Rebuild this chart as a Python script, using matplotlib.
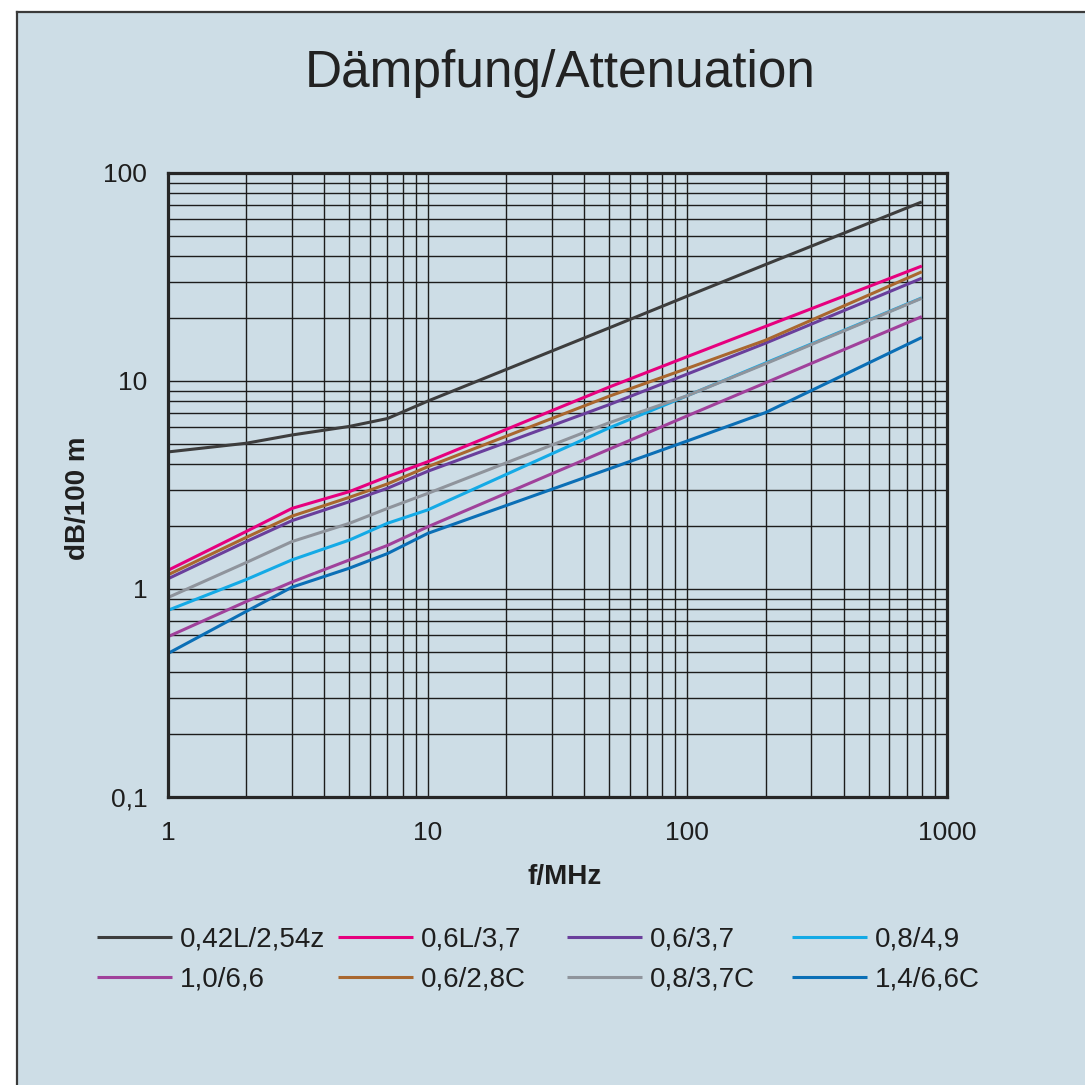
import matplotlib
matplotlib.use("Agg")
import matplotlib.pyplot as plt
from matplotlib.lines import Line2D
from matplotlib.patches import Rectangle
from matplotlib.ticker import FixedLocator, LogLocator, NullFormatter

plt.rcParams['font.family'] = ['Liberation Sans', 'DejaVu Sans']

# ---- data ----
freq = [1, 2, 3, 5, 7, 10, 50, 100, 200, 800]
series_names = ["0,42L/2,54z", "0,6L/3,7", "0,6/3,7", "0,8/4,9",
                "1,0/6,6", "0,6/2,8C", "0,8/3,7C", "1,4/6,6C"]
att_042L_254z = [4.56, 5.02, 5.5, 6.05, 6.6, 8.0, 18.0, 25.6, 36.3, 72.6]
att_06L_37 = [1.23, 1.89, 2.44, 2.94, 3.47, 4.09, 9.35, 13.1, 18.3, 35.7]
att_06_37 = [1.12, 1.69, 2.13, 2.63, 3.05, 3.68, 7.7, 10.8, 15.2, 31.2]
att_08_49 = [0.79, 1.11, 1.38, 1.72, 2.07, 2.40, 5.95, 8.5, 12.2, 25.1]
att_10_66 = [0.59, 0.87, 1.08, 1.38, 1.62, 1.99, 4.7, 6.8, 9.8, 20.4]
att_06_28C = [1.17, 1.77, 2.24, 2.76, 3.2, 3.87, 8.45, 11.5, 15.7, 33.5]
att_08_37C = [0.91, 1.34, 1.69, 2.07, 2.44, 2.88, 6.3, 8.5, 12.1, 25.0]
att_14_66C = [0.49, 0.78, 1.02, 1.26, 1.48, 1.85, 3.78, 5.15, 7.05, 16.2]
series_values = [att_042L_254z, att_06L_37, att_06_37, att_08_49,
                 att_10_66, att_06_28C, att_08_37C, att_14_66C]
series_colors = ["#3d3d3d", "#e6007e", "#6a3f9c", "#14aae6",
                 "#a0419b", "#a9672f", "#8f949c", "#0b6fb6"]
x_ticks = [1, 10, 100, 1000]
x_ticklabels = ["1", "10", "100", "1000"]
y_ticks = [0.1, 1, 10, 100]
y_ticklabels = ["0,1", "1", "10", "100"]

W = H = 1085
panel_color = "#cddde6"
fig = plt.figure(figsize=(W / 100, H / 100), dpi=100, facecolor="white")

# background panel
fig.patches.append(Rectangle((17 / W, 0), 1 - 17 / W, 1 - 12 / H, transform=fig.transFigure,
                             facecolor=panel_color, edgecolor="none", zorder=-10))
fig.lines.append(Line2D([17 / W, 17 / W], [0, 1 - 12 / H], transform=fig.transFigure,
                        color="#3a3a3a", lw=1.6, zorder=-9))
fig.lines.append(Line2D([17 / W, 1], [1 - 12 / H, 1 - 12 / H], transform=fig.transFigure,
                        color="#3a3a3a", lw=1.6, zorder=-9))

ax = fig.add_axes([168 / W, 1 - 797 / H, 779 / W, 624 / H])
ax.set_zorder(5)
ax.set_facecolor(panel_color)
ax.set_xscale("log")
ax.set_yscale("log")
ax.set_xlim(1, 1000)
ax.set_ylim(0.1, 100)

lines = []
for name, vals, col in zip(series_names, series_values, series_colors):
    ln, = ax.plot(freq, vals, color=col, lw=2.2, solid_capstyle="butt", label=name, zorder=3)
    lines.append(ln)

ax.xaxis.set_major_locator(FixedLocator(x_ticks))
ax.yaxis.set_major_locator(FixedLocator(y_ticks))
ax.set_xticklabels(x_ticklabels)
ax.set_yticklabels(y_ticklabels)
ax.xaxis.set_minor_locator(LogLocator(base=10, subs=range(2, 10)))
ax.yaxis.set_minor_locator(LogLocator(base=10, subs=range(2, 10)))
ax.xaxis.set_minor_formatter(NullFormatter())
ax.yaxis.set_minor_formatter(NullFormatter())
ax.tick_params(which="both", length=0)
ax.tick_params(axis="x", which="major", pad=17, labelsize=19, labelcolor="#1e1e1e")
ax.tick_params(axis="y", which="major", pad=15, labelsize=19, labelcolor="#1e1e1e")
ax.grid(True, which="both", color="#1c1c1c", lw=1.0, zorder=1)
ax.set_axisbelow(True)
for s in ax.spines.values():
    s.set_linewidth(2.3)
    s.set_color("#262626")
    s.set_zorder(4)

fig.text(560 / W, 1 - 87 / H, "Dämpfung/Attenuation", fontsize=37, ha="center",
         va="baseline", color="#222222")
fig.text(565 / W, 1 - 877 / H, "f/MHz", fontsize=20, fontweight="bold", ha="center",
         va="center", color="#1e1e1e")
fig.text(78 / W, 1 - 498 / H, "dB/100 m", fontsize=20, fontweight="bold", ha="center",
         va="center", rotation=90, color="#1e1e1e")

# legend: four columns placed at the reference positions, two rows each
col_x = [97, 338, 567, 792]
for c, x0 in enumerate(col_x):
    idx = [c, c + 4]
    leg = fig.legend([lines[i] for i in idx], [series_names[i] for i in idx],
                     loc="upper left", bbox_to_anchor=(x0 / W, 1 - 927 / H), ncol=1,
                     frameon=False, fontsize=20, handlelength=2.7, handletextpad=0.3,
                     labelspacing=0.5, borderpad=0, borderaxespad=0)
    for t in leg.get_texts():
        t.set_color("#1e1e1e")

fig.savefig("out.png", dpi=100, facecolor="white")
